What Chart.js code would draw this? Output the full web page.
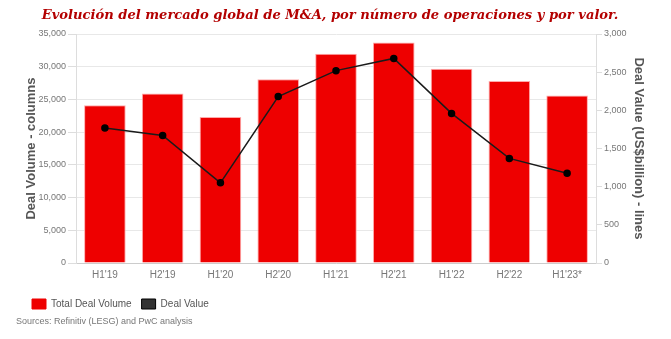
<!DOCTYPE html>
<html>
<head>
<meta charset="utf-8">
<script src="https://cdn.jsdelivr.net/npm/chart.js@4/dist/chart.umd.min.js"></script>
<style>
  html, body { margin: 0; padding: 0; background: #ffffff; }
  #wrap { width: 671px; height: 339px; position: relative; }
  #ttl { position: absolute; left: 0; top: 7px; width: 660px; text-align: center; line-height: 18px;
         font: italic bold 13.1px 'DejaVu Serif', Georgia, serif; color: #b30000; white-space: nowrap; }
  #src { position: absolute; left: 16px; top: 316px; font: 9px 'Liberation Sans', Arial, sans-serif; color: #777777; white-space: nowrap; }
</style>
</head>
<body>
<div id="wrap"><canvas id="c" width="671" height="339"></canvas><div id="ttl"></div><div id="src"></div></div>
<script>
const categories = ["H1'19", "H2'19", "H1'20", "H2'20", "H1'21", "H2'21", "H1'22", "H2'22", "H1'23*"];
const dealVolume = [24100, 25900, 22300, 28100, 32000, 33700, 29700, 27800, 25600];
const dealValue = [1770, 1670, 1050, 2180, 2520, 2680, 1960, 1370, 1175];
const volumeTicks = [0, 5000, 10000, 15000, 20000, 25000, 30000, 35000];
const valueTicks = [0, 500, 1000, 1500, 2000, 2500, 3000];

const titleText = "Evolución del mercado global de M&A, por número de operaciones y por valor.";
const sourceText = "Sources: Refinitiv (LESG) and PwC analysis";

document.getElementById('ttl').textContent = titleText;
document.getElementById('src').textContent = sourceText;

const tickFont = { family: "'Liberation Sans', Arial, sans-serif", size: 9 };
const xTickFont = { family: "'Liberation Sans', Arial, sans-serif", size: 10 };
const axisTitleFont = { family: "'Liberation Sans', Arial, sans-serif", size: 13, weight: 'bold' };

new Chart(document.getElementById('c'), {
  data: {
    labels: categories,
    datasets: [
      {
        type: 'line',
        label: 'Deal Value',
        data: dealValue,
        yAxisID: 'y1',
        borderColor: '#1a1a1a',
        backgroundColor: '#333333',
        borderWidth: 1.5,
        pointRadius: 3,
        pointBackgroundColor: '#000000',
        pointBorderColor: '#000000',
        tension: 0,
        order: 0
      },
      {
        type: 'bar',
        label: 'Total Deal Volume',
        data: dealVolume,
        yAxisID: 'y',
        backgroundColor: '#ee0000',
        borderColor: '#ffaaaa',
        borderWidth: 1,
        order: 1
      }
    ]
  },
  options: {
    responsive: false,
    animation: false,
    devicePixelRatio: 1,
    layout: { padding: { left: 22, right: 21, top: 34, bottom: 20 } },
    plugins: {
      title: { display: false },
      legend: {
        display: true,
        position: 'bottom',
        align: 'start',
        reverse: true,
        labels: {
          boxWidth: 14,
          boxHeight: 10,
          padding: 10,
          color: '#555555',
          font: { family: "'Liberation Sans', Arial, sans-serif", size: 10 },
          generateLabels: function(chart) {
            const items = Chart.defaults.plugins.legend.labels.generateLabels(chart);
            items.forEach(it => {
              if (it.text === 'Deal Value') { it.fillStyle = '#333333'; it.strokeStyle = '#000000'; it.lineWidth = 1; }
              if (it.text === 'Total Deal Volume') { it.fillStyle = '#ee0000'; it.strokeStyle = '#ee0000'; it.lineWidth = 1; }
            });
            return items;
          }
        }
      },
      tooltip: { enabled: false }
    },
    scales: {
      x: {
        grid: { display: false, drawTicks: false },
        border: { display: true, color: '#cccccc' },
        afterFit: (scale) => { scale.height = 26; },
        ticks: { color: '#777777', font: xTickFont, padding: 6, maxRotation: 0 }
      },
      y: {
        position: 'left',
        min: 0,
        max: 35000,
        afterBuildTicks: (scale) => { scale.ticks = volumeTicks.map(v => ({ value: v })); },
        afterFit: (scale) => { scale.width = 54; },
        grid: { color: '#e8e8e8', tickLength: 8, tickColor: '#dddddd' },
        border: { display: true, color: '#dddddd' },
        ticks: {
          color: '#777777', font: tickFont, padding: 2,
          callback: (v) => v.toLocaleString('en-US')
        },
        title: { display: true, text: 'Deal Volume - columns', color: '#555555', font: axisTitleFont, padding: 2 }
      },
      y1: {
        position: 'right',
        min: 0,
        max: 3000,
        afterBuildTicks: (scale) => { scale.ticks = valueTicks.map(v => ({ value: v })); },
        afterFit: (scale) => { scale.width = 54; },
        grid: { drawOnChartArea: false, tickLength: 6, color: '#dddddd' },
        border: { display: true, color: '#dddddd' },
        ticks: {
          color: '#777777', font: tickFont, padding: 2,
          callback: (v) => v.toLocaleString('en-US')
        },
        title: { display: true, text: 'Deal Value (US$billion) - lines', color: '#555555', font: axisTitleFont, padding: 4 }
      }
    }
  }
});
</script>
</body>
</html>
